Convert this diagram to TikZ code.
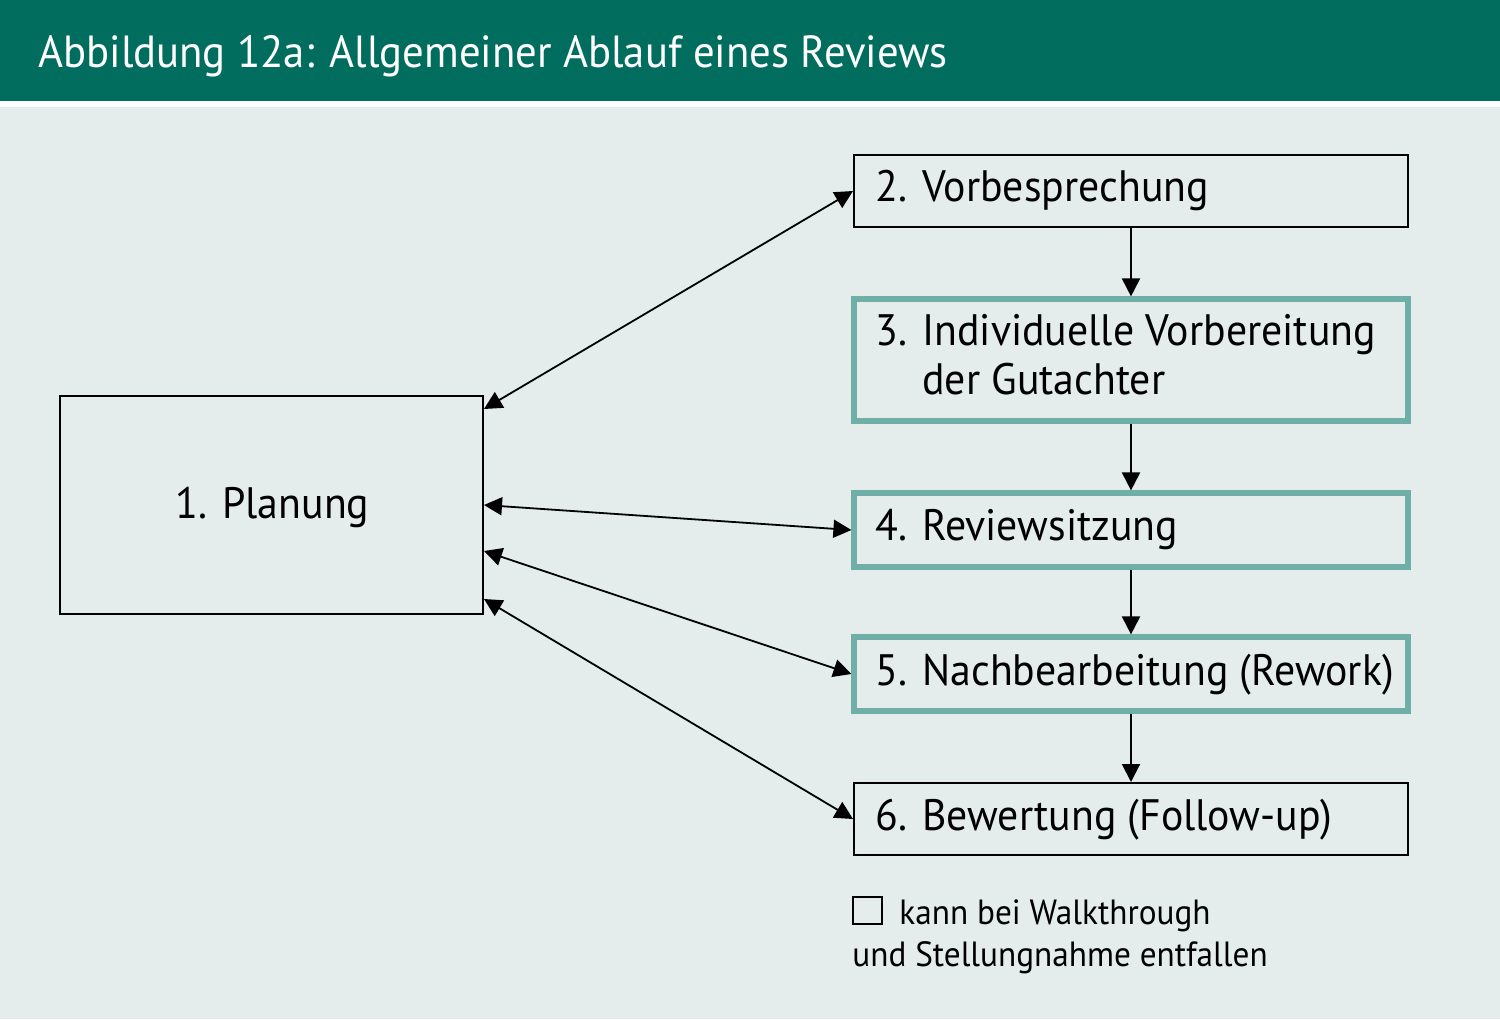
\documentclass[tikz,border=0pt]{standalone}
\usepackage{fontspec}
\setmainfont{PT Sans}[FakeStretch=0.95]
\usetikzlibrary{arrows.meta,calc}
\definecolor{hdrgreen}{HTML}{006D5F}
\definecolor{bgcol}{HTML}{E4EDEB}
\definecolor{tealbd}{HTML}{6FAFA8}
\tikzset{
  plainbox/.style={draw=black, line width=1pt, rectangle, minimum width=277pt, inner sep=0pt},
  tealbox/.style={draw=tealbd, line width=2.6pt, rectangle, minimum width=277pt, inner sep=0pt},
  lbl/.style={anchor=base west, inner sep=0pt, font=\fontsize{22}{26}\selectfont},
  conn/.style={line width=1pt, -{Triangle[length=9pt,width=9pt]}},
  biconn/.style={line width=0.9pt, {Triangle[length=9pt,width=9pt]}-{Triangle[length=9pt,width=9pt]}}
}
\newcommand{\numlbl}[2]{\makebox[23.5pt][l]{#1}#2}
\begin{document}
\begin{tikzpicture}[x=0.5pt,y=-0.5pt]
\useasboundingbox (0,0) rectangle (1500,1019);
\fill[bgcol] (0,0) rectangle (1500,1019);
\fill[white] (0,100) rectangle (1500,107);
\fill[hdrgreen] (0,0) rectangle (1500,101);
\node[anchor=base west, inner sep=0pt, text=white, font=\fontsize{22.5}{27}\selectfont] (title) at (38,67) {Abbildung 12a: Allgemeiner Ablauf eines Reviews};

% boxes
\node[plainbox, minimum width=211.5pt, minimum height=109pt] (pl) at (271.5,505) {};
\node[plainbox, minimum height=36pt] (b2) at (1131,191) {};
\node[tealbox, minimum height=61pt] (b3) at (1131,360) {};
\node[tealbox, minimum height=37pt] (b4) at (1131,530) {};
\node[tealbox, minimum height=37pt] (b5) at (1131,674) {};
\node[plainbox, minimum height=36pt] (b6) at (1131,819) {};

% labels
\node[lbl] (t1) at (175,518) {\numlbl{1.}{Planung}};
\node[lbl] (t2) at (875,201) {\numlbl{2.}{Vorbesprechung}};
\node[lbl] (t3a) at (875,345) {\numlbl{3.}{Individuelle Vorbereitung}};
\node[lbl] (t3b) at (922,394) {der Gutachter};
\node[lbl] (t4) at (875,540) {\numlbl{4.}{Reviewsitzung}};
\node[lbl] (t5) at (875,685) {\numlbl{5.}{Nachbearbeitung (Rework)}};
\node[lbl] (t6) at (875,830) {\numlbl{6.}{Bewertung (Follow-up)}};

% vertical connectors
\draw[conn] (b2.south) -- (b3.north);
\draw[conn] (b3.south) -- (b4.north);
\draw[conn] (b4.south) -- (b5.north);
\draw[conn] (b5.south) -- (b6.north);

% connectors from Planung
\coordinate (p2) at ($(pl.north east)+(0,14)$);
\coordinate (p4) at ($(pl.north east)+(0,110)$);
\coordinate (p5) at ($(pl.north east)+(0,156)$);
\coordinate (p6) at ($(pl.north east)+(0,204)$);
\draw[biconn] (p2) -- (b2.west);
\draw[biconn] (p4) -- (b4.west);
\draw[biconn] (p5) -- (b5.west);
\draw[biconn] (p6) -- (b6.west);

% legend
\node[draw=black, line width=1pt, rectangle, minimum width=14.5pt, minimum height=13.5pt, inner sep=0pt] (lg) at (867,910.5) {};
\node[anchor=base west, inner sep=0pt, font=\fontsize{17.5}{21}\selectfont] (lt1) at (899,924) {kann bei Walkthrough};
\node[anchor=base west, inner sep=0pt, font=\fontsize{17.5}{21}\selectfont] (lt2) at (852,966) {und Stellungnahme entfallen};
\end{tikzpicture}
\end{document}
